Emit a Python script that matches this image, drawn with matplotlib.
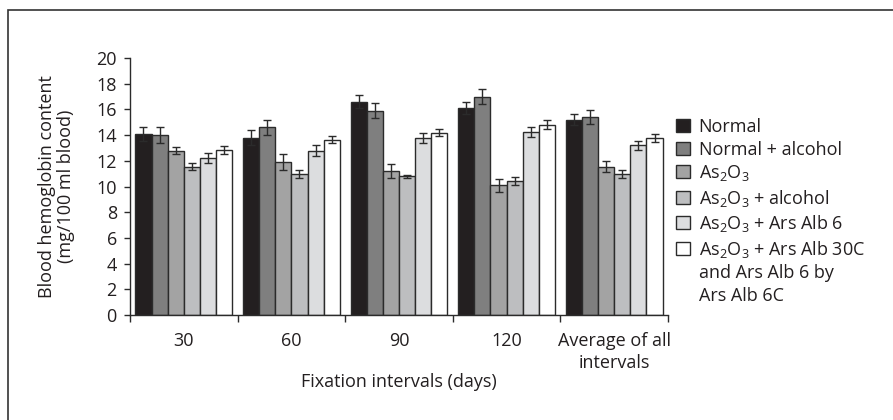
import matplotlib
matplotlib.use("Agg")
from matplotlib import pyplot as plt
from matplotlib.patches import Patch, Rectangle
import numpy as np

plt.rcParams['font.family'] = ['Open Sans', 'DejaVu Sans']
plt.rcParams['mathtext.fontset'] = 'custom'
plt.rcParams['mathtext.rm'] = 'Open Sans'
plt.rcParams['mathtext.default'] = 'regular'

intervals = ["30", "60", "90", "120", "Average of all\nintervals"]
groups = ["Normal", "Normal + alcohol", "As$_2$O$_3$", "As$_2$O$_3$ + alcohol",
          "As$_2$O$_3$ + Ars Alb 6", "As$_2$O$_3$ + Ars Alb 30C"]
extra_lines = ["and Ars Alb 6 by", "Ars Alb 6C"]

normal = [14.1, 13.8, 16.6, 16.1, 15.2]
normal_alc = [14.0, 14.6, 15.9, 17.0, 15.4]
as2o3 = [12.8, 11.9, 11.2, 10.1, 11.55]
as2o3_alc = [11.55, 11.0, 10.8, 10.45, 10.95]
alb6 = [12.2, 12.8, 13.75, 14.25, 13.2]
alb30 = [12.85, 13.65, 14.2, 14.8, 13.8]

normal_err = [0.55, 0.6, 0.5, 0.45, 0.45]
normal_alc_err = [0.6, 0.6, 0.6, 0.6, 0.55]
as2o3_err = [0.3, 0.6, 0.55, 0.5, 0.4]
as2o3_alc_err = [0.3, 0.3, 0.1, 0.3, 0.3]
alb6_err = [0.4, 0.4, 0.4, 0.4, 0.35]
alb30_err = [0.3, 0.3, 0.3, 0.35, 0.3]

series = [normal, normal_alc, as2o3, as2o3_alc, alb6, alb30]
errors = [normal_err, normal_alc_err, as2o3_err, as2o3_alc_err, alb6_err, alb30_err]
colors = ['#231f20', '#7f7f7f', '#a3a3a3', '#bdbec0', '#dcdddf', '#ffffff']
edge = '#2b2b2b'
txt = '#231f20'

fs = 13
fig = plt.figure(figsize=(8.93, 4.2), dpi=100)
ax = fig.add_axes([130 / 893, 105 / 420, 538 / 893, 257 / 420])

x = np.arange(len(intervals))
w = 0.15
for i, (vals, errs) in enumerate(zip(series, errors)):
    ax.bar(x + (i - 2.5) * w, vals, w, color=colors[i], edgecolor=edge, linewidth=1.0,
           yerr=errs, capsize=3, error_kw=dict(ecolor=edge, elinewidth=1.0, capthick=1.0),
           label=groups[i])

ax.set_xlim(-0.5, 4.5)
ax.set_ylim(0, 20)
ax.set_yticks(range(0, 21, 2))
ax.set_xticks(np.arange(-0.5, 5, 1))
ax.set_xticklabels([])
ax.set_xticks(x, minor=True)
ax.set_xticklabels(intervals, minor=True, linespacing=1.3)
ax.tick_params(axis='x', which='major', length=5, width=1, color=edge)
ax.tick_params(axis='x', which='minor', length=0, pad=12, labelsize=fs, colors=txt)
ax.tick_params(axis='y', length=4.5, width=1, color=edge, pad=5, labelsize=fs, labelcolor=txt)

for s in ['top', 'right']:
    ax.spines[s].set_visible(False)
for s in ['left', 'bottom']:
    ax.spines[s].set_color(edge)
    ax.spines[s].set_linewidth(1.0)

ax.set_xlabel("Fixation intervals (days)", fontsize=fs, color=txt, labelpad=1)
ax.set_ylabel("Blood hemoglobin content\n(mg/100 ml blood)", fontsize=fs, color=txt,
              linespacing=1.05)
ax.yaxis.set_label_coords(-0.102, 0.5)

handles, labels = ax.get_legend_handles_labels()
blank = Patch(facecolor='none', edgecolor='none')
handles += [blank, blank]
labels += extra_lines
leg = fig.legend(handles, labels, loc='upper left', bbox_to_anchor=(676 / 893, 1 - 118 / 420),
                 frameon=False, fontsize=fs, handlelength=0.75, handleheight=0.75,
                 handletextpad=0.5, labelspacing=0.25, borderpad=0, borderaxespad=0)
for t in leg.get_texts():
    t.set_color(txt)

fig.patches.append(Rectangle((8 / 893, -0.1), 1.2, 1 - 10 / 420 + 0.1, transform=fig.transFigure,
                             fill=False, edgecolor='#333333', linewidth=1.2))

fig.savefig("out.png", dpi=100)
